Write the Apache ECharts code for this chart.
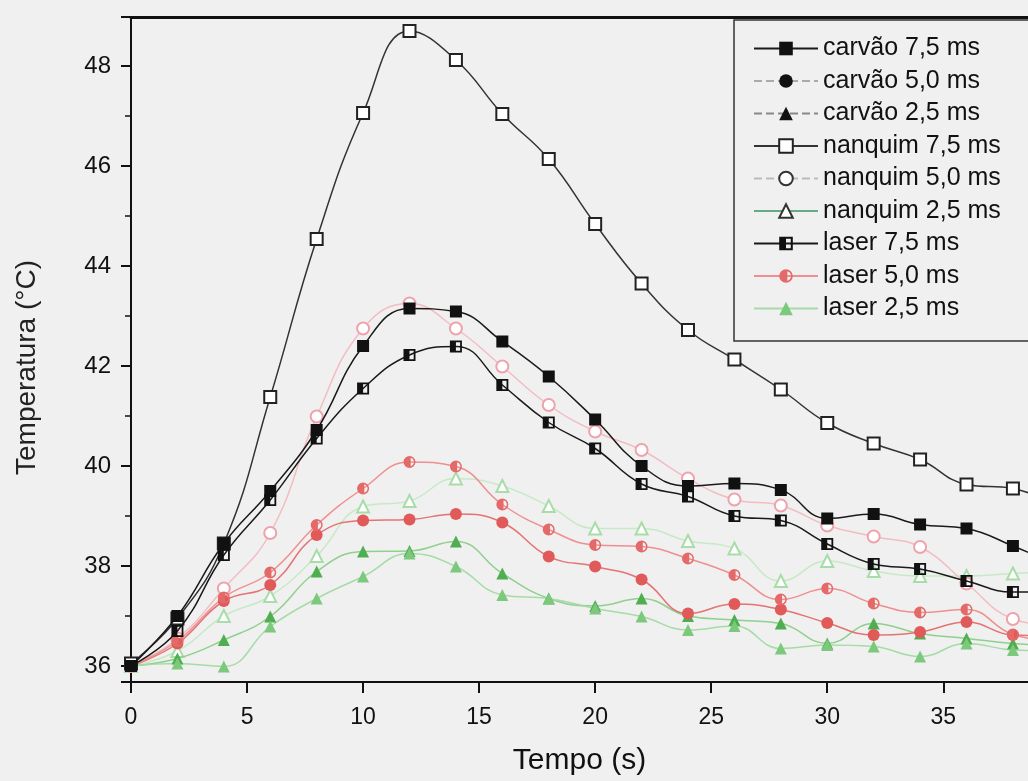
<!DOCTYPE html>
<html>
<head>
<meta charset="utf-8">
<script src="https://cdn.jsdelivr.net/npm/echarts@6/dist/echarts.min.js"></script>
<style>
  html, body { margin: 0; padding: 0; background: #f0f0f0; }
  #chart { width: 1028px; height: 781px; }
</style>
</head>
<body>
<div id="chart"></div>
<script>
// tempo (s)
const tempos = [0, 2, 4, 6, 8, 10, 12, 14, 16, 18, 20, 22, 24, 26, 28, 30, 32, 34, 36, 38, 40];

// temperatura (°C)
const carvao75 = [36.0, 37.0, 38.45, 39.5, 40.72, 42.4, 43.15, 43.09, 42.49, 41.79, 40.93, 40.0, 39.6, 39.65, 39.52, 38.95, 39.04, 38.83, 38.75, 38.4, 38.0];
const carvao50 = [36.0, 36.45, 37.3, 37.62, 38.62, 38.91, 38.93, 39.04, 38.87, 38.19, 37.99, 37.73, 37.05, 37.24, 37.13, 36.86, 36.62, 36.68, 36.88, 36.62, 36.6];
const carvao25 = [36.0, 36.15, 36.52, 36.99, 37.89, 38.29, 38.3, 38.49, 37.85, 37.35, 37.2, 37.35, 37.0, 36.92, 36.85, 36.45, 36.85, 36.65, 36.55, 36.45, 36.4];
const nanquim75 = [36.05, 36.95, 38.45, 41.38, 44.54, 47.06, 48.7, 48.12, 47.04, 46.14, 44.84, 43.65, 42.72, 42.13, 41.53, 40.86, 40.45, 40.13, 39.63, 39.55, 39.2];
const nanquim50 = [36.0, 36.55, 37.55, 38.66, 40.99, 42.75, 43.25, 42.75, 41.99, 41.22, 40.69, 40.32, 39.75, 39.33, 39.21, 38.81, 38.59, 38.38, 37.65, 36.94, 36.8];
const nanquim25 = [36.0, 36.3, 37.0, 37.4, 38.2, 39.19, 39.3, 39.75, 39.6, 39.2, 38.75, 38.75, 38.5, 38.35, 37.7, 38.1, 37.9, 37.8, 37.8, 37.85, 37.9];
const laser75 = [36.0, 36.7, 38.22, 39.32, 40.55, 41.55, 42.22, 42.39, 41.62, 40.87, 40.35, 39.64, 39.39, 39.0, 38.91, 38.44, 38.04, 37.94, 37.7, 37.48, 37.5];
const laser50 = [36.0, 36.5, 37.37, 37.87, 38.82, 39.55, 40.08, 39.99, 39.23, 38.73, 38.42, 38.39, 38.15, 37.82, 37.33, 37.55, 37.25, 37.07, 37.13, 36.63, 36.5];
const laser25 = [36.0, 36.05, 35.99, 36.79, 37.35, 37.79, 38.25, 37.99, 37.42, 37.35, 37.15, 36.99, 36.72, 36.8, 36.35, 36.42, 36.39, 36.19, 36.45, 36.32, 36.3];

const FONT = "'Liberation Sans', Arial, sans-serif";

// marcadores meio cheios
const halfSquare = 'path://M0,0H10V10H0Z M5,1.5V8.5H8.5V1.5Z';
const halfCircle = 'path://M5,0A5,5 0 1,1 5,10A5,5 0 1,1 5,0Z M6,1.5L6,8.5A3.6,3.6 0 0,0 6,1.5Z';

const pares = (vals) => tempos.map((t, i) => [t, vals[i]]);

function serie(name, vals, lineColor, symbol, color, z) {
  return {
    name: name,
    type: 'line',
    data: pares(vals),
    smooth: 0.45,
    symbol: symbol,
    symbolSize: 12,
    z: z,
    lineStyle: { color: lineColor, width: 1.5 },
    itemStyle: { color: color, borderWidth: 1.3 }
  };
}

const chart = echarts.init(document.getElementById('chart'));
chart.setOption({
  backgroundColor: '#f0f0f0',
  animation: false,
  textStyle: { fontFamily: FONT },
  grid: { left: 131, right: 0, top: 17, bottom: 99 },
  xAxis: [
    {
      type: 'value',
      min: 0,
      max: 38.65,
      interval: 5,
      name: 'Tempo (s)',
      nameLocation: 'middle',
      nameGap: 64,
      nameTextStyle: { fontSize: 30, color: '#111', fontFamily: FONT },
      axisLine: { lineStyle: { color: '#111', width: 2 } },
      axisTick: { length: 11, lineStyle: { color: '#111', width: 2 } },
      axisLabel: { margin: 24, fontSize: 23, color: '#111', fontFamily: FONT, showMaxLabel: false },
      splitLine: { show: false }
    },
    {
      // borda de cima do quadro
      type: 'value',
      position: 'top',
      min: 0,
      max: 38.65,
      axisLine: { show: true, lineStyle: { color: '#111', width: 3 } },
      axisTick: { show: false },
      axisLabel: { show: false },
      splitLine: { show: false }
    }
  ],
  yAxis: {
    type: 'value',
    min: 35.68,
    max: 48.98,
    splitNumber: 7,
    name: 'Temperatura (°C)',
    nameLocation: 'middle',
    nameGap: 90,
    nameTextStyle: { fontSize: 28, color: '#222', fontFamily: FONT, padding: [0, 36, 0, 0] },
    axisLine: { show: true, lineStyle: { color: '#111', width: 2 } },
    axisTick: { length: 10, lineStyle: { color: '#111', width: 2 } },
    minorTick: { show: true, splitNumber: 2, length: 6, lineStyle: { color: '#111', width: 1.5 } },
    axisLabel: { margin: 20, fontSize: 24, color: '#111', fontFamily: FONT, showMinLabel: false, showMaxLabel: false },
    splitLine: { show: false }
  },
  legend: {
    orient: 'vertical',
    left: 734,
    top: 20,
    padding: [16, 60, 20, 19],
    borderColor: '#333',
    borderWidth: 1.5,
    itemWidth: 64,
    itemHeight: 17,
    itemGap: 7.5,
    textStyle: { fontSize: 25, lineHeight: 25, color: '#111', fontFamily: FONT },
    data: [
      { name: 'carvão 7,5 ms' },
      { name: 'carvão 5,0 ms', itemStyle: { color: '#111' }, lineStyle: { color: '#aaa', type: 'dashed' } },
      { name: 'carvão 2,5 ms', itemStyle: { color: '#111' }, lineStyle: { color: '#888', type: 'dashed' } },
      { name: 'nanquim 7,5 ms' },
      { name: 'nanquim 5,0 ms', itemStyle: { color: '#333', borderWidth: 1 }, lineStyle: { color: '#bbb', type: 'dashed' } },
      { name: 'nanquim 2,5 ms', itemStyle: { color: '#333', borderWidth: 1 }, lineStyle: { color: '#6a8' } },
      { name: 'laser 7,5 ms' },
      { name: 'laser 5,0 ms' },
      { name: 'laser 2,5 ms' }
    ]
  },
  series: [
    serie('carvão 7,5 ms', carvao75, '#1a1a1a', 'rect', '#111', 9),
    serie('carvão 5,0 ms', carvao50, '#e57373', 'circle', '#e05a5a', 5),
    serie('carvão 2,5 ms', carvao25, '#8fd08f', 'triangle', '#4fae4f', 4),
    serie('nanquim 7,5 ms', nanquim75, '#333', 'emptyRect', '#222', 8),
    serie('nanquim 5,0 ms', nanquim50, '#f3bcc3', 'emptyCircle', '#eea3ac', 3),
    serie('nanquim 2,5 ms', nanquim25, '#c6eac6', 'emptyTriangle', '#a8dca8', 2),
    serie('laser 7,5 ms', laser75, '#1a1a1a', halfSquare, '#111', 9),
    serie('laser 5,0 ms', laser50, '#ef8f8f', halfCircle, '#e46a6a', 5),
    serie('laser 2,5 ms', laser25, '#a5dca5', 'triangle', '#7cc87c', 4)
  ]
});
</script>
</body>
</html>
